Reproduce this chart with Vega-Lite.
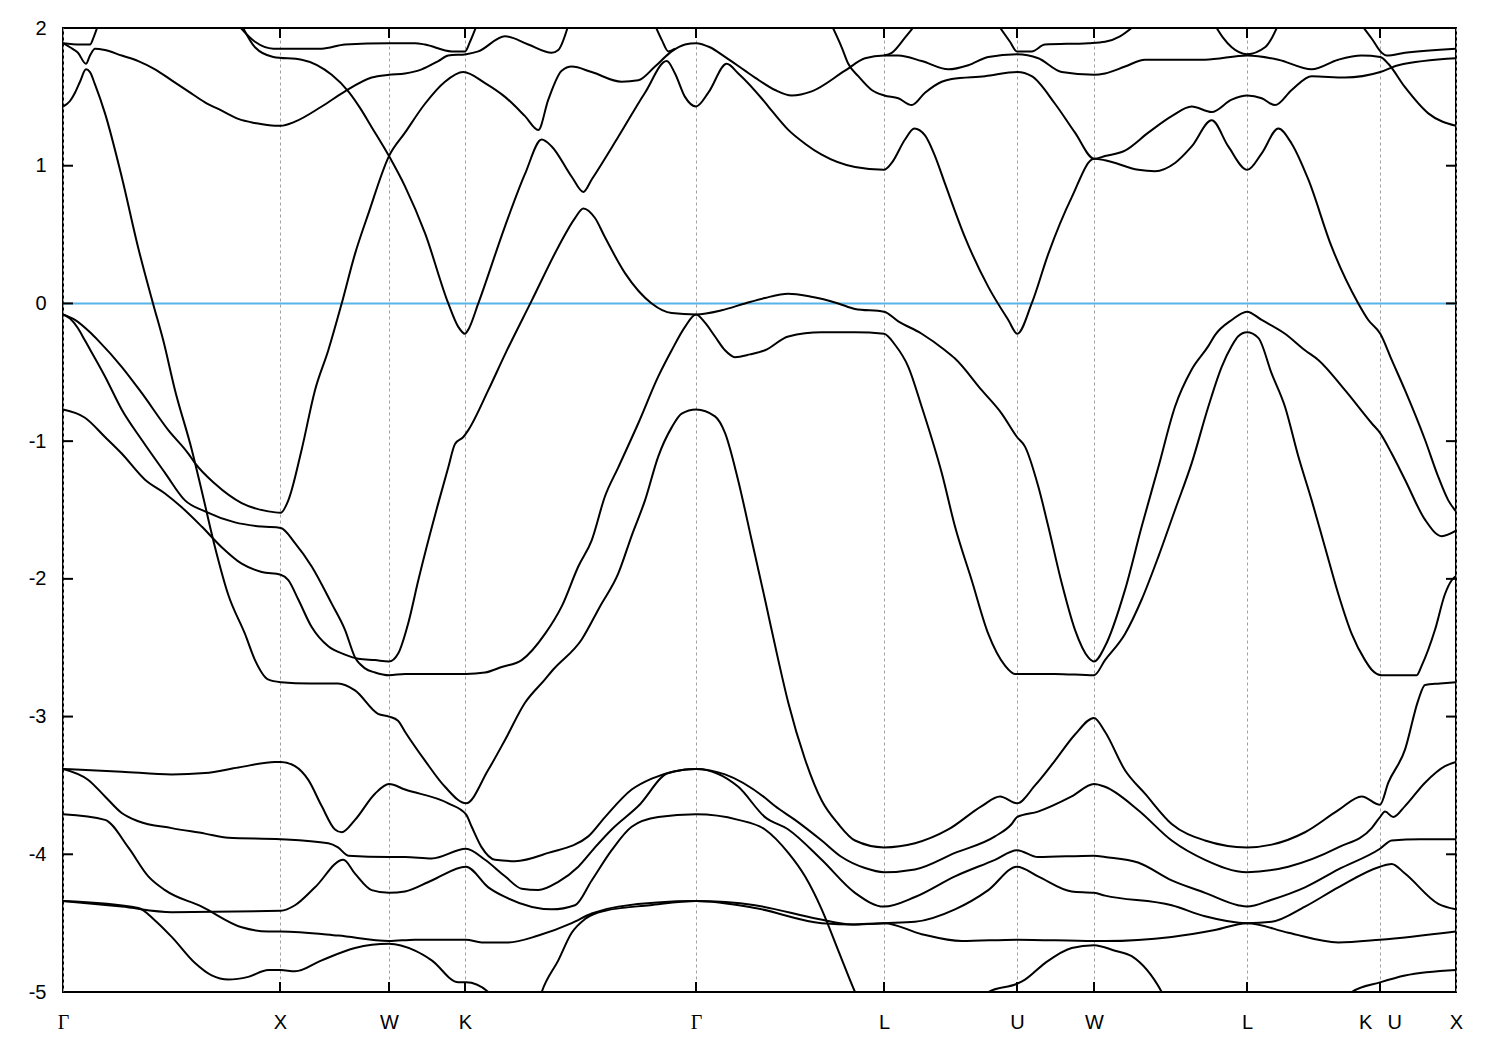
{
"$schema":"https://vega.github.io/schema/vega-lite/v6.json",
"width":1393,"height":964,
"autosize":{"type":"none"},
"padding":{"left":63,"top":28,"right":44,"bottom":58},
"background":"white",
"config":{"view":{"stroke":"#000000","strokeWidth":2},
"axis":{"labelFont":"Liberation Sans","labelFontSize":20,"labelColor":"#000000","ticks":false,"domain":false,"labelFlush":false,"labelOverlap":false,"grid":false}},
"datasets":{"bands":[
{"b":"T1","k":0,"E":1.89},{"b":"T1","k":17,"E":1.88},{"b":"T1","k":27,"E":1.88},{"b":"T1","k":31,"E":1.94},{"b":"T1","k":35,"E":2.02},
{"b":"T2","k":0,"E":1.89},{"b":"T2","k":7,"E":1.86},{"b":"T2","k":15,"E":1.82},{"b":"T2","k":23,"E":1.74},{"b":"T2","k":27,"E":1.8},{"b":"T2","k":32,"E":1.85},{"b":"T2","k":42,"E":1.84},{"b":"T2","k":58.7,"E":1.8},{"b":"T2","k":75.3,"E":1.76},{"b":"T2","k":92,"E":1.7},{"b":"T2","k":108.7,"E":1.62},{"b":"T2","k":125.3,"E":1.54},{"b":"T2","k":142,"E":1.46},{"b":"T2","k":158.7,"E":1.4},{"b":"T2","k":175.3,"E":1.34},{"b":"T2","k":192,"E":1.31},{"b":"T2","k":212,"E":1.29},{"b":"T2","k":217.7,"E":1.29},{"b":"T2","k":232,"E":1.32},{"b":"T2","k":258.7,"E":1.43},{"b":"T2","k":282,"E":1.54},{"b":"T2","k":308.7,"E":1.64},{"b":"T2","k":326,"E":1.66},{"b":"T2","k":342,"E":1.67},{"b":"T2","k":358.7,"E":1.7},{"b":"T2","k":375.3,"E":1.76},{"b":"T2","k":385.3,"E":1.8},{"b":"T2","k":403.3,"E":1.81},{"b":"T2","k":415.3,"E":1.83},{"b":"T2","k":442,"E":1.94},{"b":"T2","k":465.3,"E":1.88},{"b":"T2","k":488.7,"E":1.82},{"b":"T2","k":495.3,"E":1.84},{"b":"T2","k":505.3,"E":2.02},
{"b":"C","k":175.3,"E":2.02},{"b":"C","k":192,"E":1.9},{"b":"C","k":210.3,"E":1.85},{"b":"C","k":258.7,"E":1.85},{"b":"C","k":282,"E":1.88},{"b":"C","k":326,"E":1.89},{"b":"C","k":352,"E":1.89},{"b":"C","k":362,"E":1.88},{"b":"C","k":388.7,"E":1.83},{"b":"C","k":402,"E":1.83},{"b":"C","k":407,"E":1.9},{"b":"C","k":413.7,"E":2.02},
{"b":"D","k":178.7,"E":2.02},{"b":"D","k":192,"E":1.86},{"b":"D","k":210.3,"E":1.79},{"b":"D","k":238.7,"E":1.77},{"b":"D","k":268.7,"E":1.66},{"b":"D","k":285.3,"E":1.54},{"b":"D","k":297,"E":1.42},{"b":"D","k":308.7,"E":1.28},{"b":"D","k":326,"E":1.07},{"b":"D","k":342,"E":0.85},{"b":"D","k":362,"E":0.51},{"b":"D","k":385.3,"E":0},{"b":"D","k":395.3,"E":-0.17},{"b":"D","k":402,"E":-0.22},{"b":"D","k":405.3,"E":-0.19},{"b":"D","k":415.3,"E":0},{"b":"D","k":442,"E":0.56},{"b":"D","k":462,"E":0.94},{"b":"D","k":478.7,"E":1.19},{"b":"D","k":488.7,"E":1.14},{"b":"D","k":508.7,"E":0.92},{"b":"D","k":520.3,"E":0.81},{"b":"D","k":528.7,"E":0.9},{"b":"D","k":555.3,"E":1.21},{"b":"D","k":582,"E":1.53},{"b":"D","k":603.7,"E":1.76},{"b":"D","k":612,"E":1.67},{"b":"D","k":622,"E":1.5},{"b":"D","k":633,"E":1.43},{"b":"D","k":645.3,"E":1.53},{"b":"D","k":663.7,"E":1.74},{"b":"D","k":675.3,"E":1.67},{"b":"D","k":702,"E":1.46},{"b":"D","k":708.7,"E":1.4},{"b":"D","k":725.3,"E":1.26},{"b":"D","k":742,"E":1.16},{"b":"D","k":758.7,"E":1.08},{"b":"D","k":792,"E":0.99},{"b":"D","k":821,"E":0.97},{"b":"D","k":828.7,"E":1.02},{"b":"D","k":842,"E":1.19},{"b":"D","k":851.3,"E":1.27},{"b":"D","k":862,"E":1.22},{"b":"D","k":872,"E":1.07},{"b":"D","k":882,"E":0.87},{"b":"D","k":902,"E":0.48},{"b":"D","k":925.3,"E":0.12},{"b":"D","k":945.3,"E":-0.12},{"b":"D","k":954.3,"E":-0.22},{"b":"D","k":968.7,"E":0},{"b":"D","k":985.3,"E":0.36},{"b":"D","k":1008.7,"E":0.77},{"b":"D","k":1031,"E":1.05},{"b":"D","k":1042,"E":1.04},{"b":"D","k":1075.3,"E":0.97},{"b":"D","k":1092,"E":0.96},{"b":"D","k":1112,"E":1.02},{"b":"D","k":1128.7,"E":1.14},{"b":"D","k":1148.7,"E":1.33},{"b":"D","k":1165.3,"E":1.14},{"b":"D","k":1184.3,"E":0.97},{"b":"D","k":1198.7,"E":1.09},{"b":"D","k":1215.3,"E":1.27},{"b":"D","k":1228.7,"E":1.16},{"b":"D","k":1245.3,"E":0.9},{"b":"D","k":1268.7,"E":0.41},{"b":"D","k":1295.3,"E":0},{"b":"D","k":1305.3,"E":-0.12},{"b":"D","k":1317.3,"E":-0.22},{"b":"D","k":1328.7,"E":-0.41},{"b":"D","k":1342,"E":-0.63},{"b":"D","k":1362,"E":-0.99},{"b":"D","k":1375.3,"E":-1.26},{"b":"D","k":1385.3,"E":-1.43},{"b":"D","k":1393,"E":-1.51},
{"b":"E","k":0,"E":-0.08},{"b":"E","k":12,"E":-0.12},{"b":"E","k":27,"E":-0.21},{"b":"E","k":35.3,"E":-0.27},{"b":"E","k":58.7,"E":-0.46},{"b":"E","k":78.7,"E":-0.65},{"b":"E","k":105.3,"E":-0.92},{"b":"E","k":125.3,"E":-1.09},{"b":"E","k":132,"E":-1.16},{"b":"E","k":152,"E":-1.31},{"b":"E","k":178.7,"E":-1.45},{"b":"E","k":205.3,"E":-1.51},{"b":"E","k":217.7,"E":-1.52},{"b":"E","k":225.3,"E":-1.43},{"b":"E","k":238.7,"E":-1.06},{"b":"E","k":252,"E":-0.63},{"b":"E","k":265.3,"E":-0.34},{"b":"E","k":278.7,"E":0},{"b":"E","k":292,"E":0.36},{"b":"E","k":305.3,"E":0.65},{"b":"E","k":326,"E":1.07},{"b":"E","k":342,"E":1.24},{"b":"E","k":362,"E":1.45},{"b":"E","k":382,"E":1.61},{"b":"E","k":400.3,"E":1.68},{"b":"E","k":422,"E":1.6},{"b":"E","k":442,"E":1.5},{"b":"E","k":462,"E":1.36},{"b":"E","k":475.3,"E":1.26},{"b":"E","k":485.3,"E":1.48},{"b":"E","k":498.7,"E":1.69},{"b":"E","k":508.7,"E":1.72},{"b":"E","k":528.7,"E":1.68},{"b":"E","k":558.7,"E":1.61},{"b":"E","k":575.3,"E":1.62},{"b":"E","k":592,"E":1.72},{"b":"E","k":608.7,"E":1.83},{"b":"E","k":622,"E":1.88},{"b":"E","k":633,"E":1.89},{"b":"E","k":647,"E":1.86},{"b":"E","k":662,"E":1.79},{"b":"E","k":682,"E":1.69},{"b":"E","k":692,"E":1.64},{"b":"E","k":712,"E":1.55},{"b":"E","k":728.7,"E":1.51},{"b":"E","k":748.7,"E":1.54},{"b":"E","k":782,"E":1.69},{"b":"E","k":802,"E":1.78},{"b":"E","k":821,"E":1.8},{"b":"E","k":835.3,"E":1.8},{"b":"E","k":858.7,"E":1.76},{"b":"E","k":885.3,"E":1.7},{"b":"E","k":905.3,"E":1.73},{"b":"E","k":925.3,"E":1.79},{"b":"E","k":954,"E":1.81},{"b":"E","k":975.3,"E":1.78},{"b":"E","k":998.7,"E":1.68},{"b":"E","k":1031.3,"E":1.66},{"b":"E","k":1042,"E":1.67},{"b":"E","k":1062,"E":1.72},{"b":"E","k":1082,"E":1.77},{"b":"E","k":1108.7,"E":1.77},{"b":"E","k":1142,"E":1.77},{"b":"E","k":1184.3,"E":1.8},{"b":"E","k":1215.3,"E":1.77},{"b":"E","k":1248.7,"E":1.7},{"b":"E","k":1275.3,"E":1.77},{"b":"E","k":1298.7,"E":1.8},{"b":"E","k":1317.3,"E":1.79},{"b":"E","k":1325.3,"E":1.74},{"b":"E","k":1342,"E":1.57},{"b":"E","k":1365.3,"E":1.38},{"b":"E","k":1393,"E":1.29},
{"b":"F","k":768.7,"E":2.02},{"b":"F","k":778.7,"E":1.86},{"b":"F","k":785.3,"E":1.74},{"b":"F","k":795.3,"E":1.65},{"b":"F","k":808.7,"E":1.55},{"b":"F","k":821.3,"E":1.51},{"b":"F","k":835.3,"E":1.49},{"b":"F","k":848.7,"E":1.44},{"b":"F","k":862,"E":1.53},{"b":"F","k":878.7,"E":1.61},{"b":"F","k":888.7,"E":1.63},{"b":"F","k":922,"E":1.65},{"b":"F","k":954.3,"E":1.68},{"b":"F","k":968.7,"E":1.65},{"b":"F","k":992,"E":1.45},{"b":"F","k":1012,"E":1.24},{"b":"F","k":1031.3,"E":1.05},{"b":"F","k":1042,"E":1.07},{"b":"F","k":1062,"E":1.11},{"b":"F","k":1085.3,"E":1.24},{"b":"F","k":1108.7,"E":1.36},{"b":"F","k":1128.7,"E":1.43},{"b":"F","k":1148.7,"E":1.39},{"b":"F","k":1168.7,"E":1.48},{"b":"F","k":1184.3,"E":1.51},{"b":"F","k":1198.7,"E":1.49},{"b":"F","k":1212,"E":1.44},{"b":"F","k":1228.7,"E":1.55},{"b":"F","k":1248.7,"E":1.65},{"b":"F","k":1282,"E":1.64},{"b":"F","k":1317.3,"E":1.68},{"b":"F","k":1335.3,"E":1.73},{"b":"F","k":1393,"E":1.78},
{"b":"L1c","k":821,"E":1.8},{"b":"L1c","k":828.7,"E":1.82},{"b":"L1c","k":842,"E":1.93},{"b":"L1c","k":852,"E":2.02},
{"b":"G13","k":592,"E":2.02},{"b":"G13","k":599,"E":1.91},{"b":"G13","k":605.3,"E":1.83},{"b":"G13","k":612,"E":1.85},
{"b":"Ut","k":935.3,"E":2.02},{"b":"Ut","k":947,"E":1.9},{"b":"Ut","k":954,"E":1.83},{"b":"Ut","k":968.7,"E":1.83},{"b":"Ut","k":982,"E":1.88},{"b":"Ut","k":1025.3,"E":1.89},{"b":"Ut","k":1042,"E":1.9},{"b":"Ut","k":1057,"E":1.94},{"b":"Ut","k":1072,"E":2.02},
{"b":"L2c","k":1152,"E":2.02},{"b":"L2c","k":1160,"E":1.93},{"b":"L2c","k":1168.7,"E":1.86},{"b":"L2c","k":1184,"E":1.81},{"b":"L2c","k":1202,"E":1.86},{"b":"L2c","k":1209,"E":1.93},{"b":"L2c","k":1215,"E":2.02},
{"b":"Kt","k":1298.7,"E":2.02},{"b":"Kt","k":1309,"E":1.92},{"b":"Kt","k":1318.7,"E":1.82},{"b":"Kt","k":1323.7,"E":1.8},{"b":"Kt","k":1342,"E":1.82},{"b":"Kt","k":1393,"E":1.85},
{"b":"S","k":0,"E":1.43},{"b":"S","k":7,"E":1.47},{"b":"S","k":12,"E":1.53},{"b":"S","k":17,"E":1.61},{"b":"S","k":23,"E":1.7},{"b":"S","k":27,"E":1.68},{"b":"S","k":32,"E":1.59},{"b":"S","k":42,"E":1.38},{"b":"S","k":58.7,"E":0.92},{"b":"S","k":75,"E":0.41},{"b":"S","k":90,"E":0},{"b":"S","k":100.3,"E":-0.27},{"b":"S","k":112,"E":-0.63},{"b":"S","k":128.7,"E":-1.06},{"b":"S","k":138.7,"E":-1.36},{"b":"S","k":152,"E":-1.77},{"b":"S","k":165,"E":-2.11},{"b":"S","k":182,"E":-2.4},{"b":"S","k":192,"E":-2.59},{"b":"S","k":205,"E":-2.73},{"b":"S","k":217.7,"E":-2.75},{"b":"S","k":247,"E":-2.76},{"b":"S","k":275,"E":-2.76},{"b":"S","k":292,"E":-2.81},{"b":"S","k":315,"E":-2.98},{"b":"S","k":326,"E":-3},{"b":"S","k":335,"E":-3.03},{"b":"S","k":342,"E":-3.11},{"b":"S","k":362,"E":-3.32},{"b":"S","k":382,"E":-3.51},{"b":"S","k":403,"E":-3.63},{"b":"S","k":425,"E":-3.39},{"b":"S","k":442,"E":-3.17},{"b":"S","k":462,"E":-2.9},{"b":"S","k":482,"E":-2.73},{"b":"S","k":490,"E":-2.66},{"b":"S","k":518.7,"E":-2.44},{"b":"S","k":537,"E":-2.2},{"b":"S","k":555.3,"E":-1.96},{"b":"S","k":569,"E":-1.68},{"b":"S","k":582,"E":-1.43},{"b":"S","k":595.3,"E":-1.11},{"b":"S","k":608.7,"E":-0.9},{"b":"S","k":618.7,"E":-0.8},{"b":"S","k":633,"E":-0.77},{"b":"S","k":652,"E":-0.82},{"b":"S","k":662,"E":-0.94},{"b":"S","k":675,"E":-1.28},{"b":"S","k":688.7,"E":-1.72},{"b":"S","k":702,"E":-2.15},{"b":"S","k":715.3,"E":-2.59},{"b":"S","k":725.3,"E":-2.9},{"b":"S","k":742,"E":-3.31},{"b":"S","k":758.7,"E":-3.61},{"b":"S","k":775.3,"E":-3.78},{"b":"S","k":792,"E":-3.9},{"b":"S","k":821,"E":-3.95},{"b":"S","k":852,"E":-3.92},{"b":"S","k":885.3,"E":-3.82},{"b":"S","k":918.7,"E":-3.65},{"b":"S","k":937,"E":-3.58},{"b":"S","k":954,"E":-3.63},{"b":"S","k":972,"E":-3.5},{"b":"S","k":992,"E":-3.32},{"b":"S","k":1012,"E":-3.13},{"b":"S","k":1031,"E":-3.01},{"b":"S","k":1042,"E":-3.11},{"b":"S","k":1062,"E":-3.39},{"b":"S","k":1082,"E":-3.56},{"b":"S","k":1108.7,"E":-3.78},{"b":"S","k":1142,"E":-3.9},{"b":"S","k":1184,"E":-3.95},{"b":"S","k":1208.7,"E":-3.93},{"b":"S","k":1242,"E":-3.84},{"b":"S","k":1275.3,"E":-3.68},{"b":"S","k":1298.7,"E":-3.58},{"b":"S","k":1317,"E":-3.64},{"b":"S","k":1325.3,"E":-3.48},{"b":"S","k":1342,"E":-3.24},{"b":"S","k":1355.3,"E":-2.88},{"b":"S","k":1362,"E":-2.77},{"b":"S","k":1377,"E":-2.76},{"b":"S","k":1393,"E":-2.75},
{"b":"P","k":0,"E":-0.08},{"b":"P","k":7,"E":-0.11},{"b":"P","k":15,"E":-0.18},{"b":"P","k":22,"E":-0.27},{"b":"P","k":42,"E":-0.53},{"b":"P","k":58.7,"E":-0.77},{"b":"P","k":78.7,"E":-0.99},{"b":"P","k":102,"E":-1.23},{"b":"P","k":122,"E":-1.43},{"b":"P","k":142,"E":-1.51},{"b":"P","k":172,"E":-1.59},{"b":"P","k":198.7,"E":-1.62},{"b":"P","k":217.7,"E":-1.63},{"b":"P","k":232,"E":-1.74},{"b":"P","k":248.7,"E":-1.91},{"b":"P","k":268.7,"E":-2.18},{"b":"P","k":282,"E":-2.37},{"b":"P","k":292,"E":-2.57},{"b":"P","k":302,"E":-2.65},{"b":"P","k":312,"E":-2.68},{"b":"P","k":326,"E":-2.7},{"b":"P","k":342,"E":-2.69},{"b":"P","k":367,"E":-2.69},{"b":"P","k":403,"E":-2.69},{"b":"P","k":422,"E":-2.68},{"b":"P","k":438.7,"E":-2.64},{"b":"P","k":458.7,"E":-2.59},{"b":"P","k":482,"E":-2.4},{"b":"P","k":498.7,"E":-2.2},{"b":"P","k":515.3,"E":-1.91},{"b":"P","k":528.7,"E":-1.72},{"b":"P","k":542,"E":-1.4},{"b":"P","k":555.3,"E":-1.19},{"b":"P","k":575.3,"E":-0.87},{"b":"P","k":595.3,"E":-0.53},{"b":"P","k":608.7,"E":-0.34},{"b":"P","k":622,"E":-0.17},{"b":"P","k":633,"E":-0.08},{"b":"P","k":642,"E":-0.14},{"b":"P","k":652,"E":-0.24},{"b":"P","k":662,"E":-0.34},{"b":"P","k":672,"E":-0.39},{"b":"P","k":687,"E":-0.37},{"b":"P","k":702,"E":-0.34},{"b":"P","k":725.3,"E":-0.24},{"b":"P","k":758.7,"E":-0.21},{"b":"P","k":792,"E":-0.21},{"b":"P","k":821,"E":-0.22},{"b":"P","k":832,"E":-0.3},{"b":"P","k":845.3,"E":-0.46},{"b":"P","k":858.7,"E":-0.75},{"b":"P","k":878.7,"E":-1.23},{"b":"P","k":892,"E":-1.62},{"b":"P","k":908.7,"E":-2.01},{"b":"P","k":925.3,"E":-2.4},{"b":"P","k":942,"E":-2.63},{"b":"P","k":952,"E":-2.69},{"b":"P","k":992,"E":-2.69},{"b":"P","k":1031,"E":-2.7},{"b":"P","k":1042,"E":-2.59},{"b":"P","k":1062,"E":-2.4},{"b":"P","k":1078.7,"E":-2.15},{"b":"P","k":1095.3,"E":-1.84},{"b":"P","k":1112,"E":-1.5},{"b":"P","k":1128.7,"E":-1.16},{"b":"P","k":1145.3,"E":-0.75},{"b":"P","k":1158.7,"E":-0.46},{"b":"P","k":1168.7,"E":-0.31},{"b":"P","k":1175,"E":-0.24},{"b":"P","k":1184,"E":-0.21},{"b":"P","k":1195.3,"E":-0.25},{"b":"P","k":1208.7,"E":-0.51},{"b":"P","k":1222,"E":-0.75},{"b":"P","k":1235.3,"E":-1.11},{"b":"P","k":1248.7,"E":-1.43},{"b":"P","k":1262,"E":-1.77},{"b":"P","k":1275.3,"E":-2.11},{"b":"P","k":1288.7,"E":-2.4},{"b":"P","k":1302,"E":-2.59},{"b":"P","k":1308.7,"E":-2.66},{"b":"P","k":1318.7,"E":-2.7},{"b":"P","k":1353.7,"E":-2.7},{"b":"P","k":1358.7,"E":-2.63},{"b":"P","k":1372,"E":-2.37},{"b":"P","k":1382,"E":-2.11},{"b":"P","k":1388.7,"E":-2.01},{"b":"P","k":1393,"E":-1.98},
{"b":"R","k":0,"E":-0.77},{"b":"R","k":22,"E":-0.83},{"b":"R","k":42,"E":-0.97},{"b":"R","k":58.7,"E":-1.09},{"b":"R","k":82,"E":-1.28},{"b":"R","k":102,"E":-1.38},{"b":"R","k":118.7,"E":-1.48},{"b":"R","k":138.7,"E":-1.62},{"b":"R","k":158.7,"E":-1.77},{"b":"R","k":178.7,"E":-1.89},{"b":"R","k":198.7,"E":-1.95},{"b":"R","k":217.7,"E":-1.97},{"b":"R","k":225.3,"E":-2.01},{"b":"R","k":235.3,"E":-2.15},{"b":"R","k":248.7,"E":-2.35},{"b":"R","k":265.3,"E":-2.49},{"b":"R","k":282,"E":-2.55},{"b":"R","k":295.3,"E":-2.58},{"b":"R","k":312,"E":-2.59},{"b":"R","k":326,"E":-2.6},{"b":"R","k":335.3,"E":-2.54},{"b":"R","k":345.3,"E":-2.32},{"b":"R","k":355.3,"E":-2.01},{"b":"R","k":375.3,"E":-1.45},{"b":"R","k":385.3,"E":-1.19},{"b":"R","k":392,"E":-1.02},{"b":"R","k":400.3,"E":-0.97},{"b":"R","k":405.3,"E":-0.92},{"b":"R","k":425.3,"E":-0.63},{"b":"R","k":442,"E":-0.37},{"b":"R","k":468.7,"E":0.02},{"b":"R","k":495.3,"E":0.41},{"b":"R","k":512,"E":0.62},{"b":"R","k":520.3,"E":0.69},{"b":"R","k":532,"E":0.62},{"b":"R","k":542,"E":0.48},{"b":"R","k":562,"E":0.22},{"b":"R","k":588.7,"E":0},{"b":"R","k":608.7,"E":-0.07},{"b":"R","k":633,"E":-0.08},{"b":"R","k":658.7,"E":-0.05},{"b":"R","k":682,"E":0},{"b":"R","k":702,"E":0.04},{"b":"R","k":725.3,"E":0.07},{"b":"R","k":747,"E":0.05},{"b":"R","k":775.3,"E":0},{"b":"R","k":792,"E":-0.04},{"b":"R","k":821,"E":-0.06},{"b":"R","k":835.3,"E":-0.13},{"b":"R","k":858.7,"E":-0.22},{"b":"R","k":882,"E":-0.34},{"b":"R","k":892,"E":-0.4},{"b":"R","k":918.7,"E":-0.63},{"b":"R","k":938.7,"E":-0.8},{"b":"R","k":954,"E":-0.97},{"b":"R","k":962,"E":-1.04},{"b":"R","k":975.3,"E":-1.33},{"b":"R","k":985.3,"E":-1.62},{"b":"R","k":998.7,"E":-2.03},{"b":"R","k":1012,"E":-2.37},{"b":"R","k":1025.3,"E":-2.57},{"b":"R","k":1031,"E":-2.6},{"b":"R","k":1042,"E":-2.49},{"b":"R","k":1062,"E":-2.08},{"b":"R","k":1078.7,"E":-1.62},{"b":"R","k":1095.3,"E":-1.19},{"b":"R","k":1112,"E":-0.75},{"b":"R","k":1128.7,"E":-0.48},{"b":"R","k":1145.3,"E":-0.31},{"b":"R","k":1152,"E":-0.23},{"b":"R","k":1168.7,"E":-0.12},{"b":"R","k":1184,"E":-0.06},{"b":"R","k":1198.7,"E":-0.12},{"b":"R","k":1222,"E":-0.22},{"b":"R","k":1242,"E":-0.34},{"b":"R","k":1255.3,"E":-0.41},{"b":"R","k":1282,"E":-0.63},{"b":"R","k":1308.7,"E":-0.87},{"b":"R","k":1317,"E":-0.94},{"b":"R","k":1328.7,"E":-1.09},{"b":"R","k":1342,"E":-1.28},{"b":"R","k":1362,"E":-1.57},{"b":"R","k":1378.7,"E":-1.69},{"b":"R","k":1393,"E":-1.65},
{"b":"G1","k":0,"E":-3.38},{"b":"G1","k":58.7,"E":-3.4},{"b":"G1","k":108.7,"E":-3.42},{"b":"G1","k":142,"E":-3.41},{"b":"G1","k":175.3,"E":-3.37},{"b":"G1","k":212,"E":-3.33},{"b":"G1","k":217.7,"E":-3.33},{"b":"G1","k":232,"E":-3.36},{"b":"G1","k":245.3,"E":-3.46},{"b":"G1","k":258.7,"E":-3.65},{"b":"G1","k":272,"E":-3.82},{"b":"G1","k":278.7,"E":-3.84},{"b":"G1","k":292,"E":-3.75},{"b":"G1","k":312,"E":-3.56},{"b":"G1","k":326,"E":-3.49},{"b":"G1","k":342,"E":-3.53},{"b":"G1","k":385.3,"E":-3.63},{"b":"G1","k":403,"E":-3.71},{"b":"G1","k":408.7,"E":-3.8},{"b":"G1","k":418.7,"E":-3.95},{"b":"G1","k":432,"E":-4.04},{"b":"G1","k":452,"E":-4.05},{"b":"G1","k":485.3,"E":-3.99},{"b":"G1","k":525.3,"E":-3.87},{"b":"G1","k":542,"E":-3.73},{"b":"G1","k":568.7,"E":-3.53},{"b":"G1","k":588.7,"E":-3.45},{"b":"G1","k":633,"E":-3.38},{"b":"G1","k":662,"E":-3.42},{"b":"G1","k":702,"E":-3.59},{"b":"G1","k":712,"E":-3.65},{"b":"G1","k":732,"E":-3.75},{"b":"G1","k":758.7,"E":-3.9},{"b":"G1","k":778.7,"E":-4.02},{"b":"G1","k":802,"E":-4.1},{"b":"G1","k":821,"E":-4.13},{"b":"G1","k":852,"E":-4.11},{"b":"G1","k":892,"E":-3.99},{"b":"G1","k":932,"E":-3.87},{"b":"G1","k":948.7,"E":-3.78},{"b":"G1","k":954,"E":-3.73},{"b":"G1","k":975,"E":-3.69},{"b":"G1","k":1008.7,"E":-3.58},{"b":"G1","k":1031,"E":-3.49},{"b":"G1","k":1042,"E":-3.51},{"b":"G1","k":1075.3,"E":-3.68},{"b":"G1","k":1108.7,"E":-3.9},{"b":"G1","k":1142,"E":-4.04},{"b":"G1","k":1184,"E":-4.13},{"b":"G1","k":1225.3,"E":-4.09},{"b":"G1","k":1275.3,"E":-3.95},{"b":"G1","k":1308.7,"E":-3.81},{"b":"G1","k":1317,"E":-3.73},{"b":"G1","k":1322,"E":-3.69},{"b":"G1","k":1330.3,"E":-3.73},{"b":"G1","k":1342,"E":-3.65},{"b":"G1","k":1362,"E":-3.48},{"b":"G1","k":1382,"E":-3.36},{"b":"G1","k":1393,"E":-3.33},
{"b":"G2","k":0,"E":-3.38},{"b":"G2","k":25.3,"E":-3.46},{"b":"G2","k":42,"E":-3.58},{"b":"G2","k":58.7,"E":-3.7},{"b":"G2","k":75.3,"E":-3.76},{"b":"G2","k":108.7,"E":-3.81},{"b":"G2","k":142,"E":-3.85},{"b":"G2","k":165.3,"E":-3.88},{"b":"G2","k":217.7,"E":-3.89},{"b":"G2","k":265.3,"E":-3.92},{"b":"G2","k":275,"E":-3.95},{"b":"G2","k":285.3,"E":-4.01},{"b":"G2","k":326,"E":-4.02},{"b":"G2","k":342,"E":-4.02},{"b":"G2","k":368.7,"E":-4.03},{"b":"G2","k":403,"E":-3.96},{"b":"G2","k":422,"E":-4.04},{"b":"G2","k":442,"E":-4.16},{"b":"G2","k":458.7,"E":-4.25},{"b":"G2","k":475.3,"E":-4.26},{"b":"G2","k":495.3,"E":-4.2},{"b":"G2","k":515.3,"E":-4.09},{"b":"G2","k":532,"E":-3.95},{"b":"G2","k":548.7,"E":-3.82},{"b":"G2","k":575.3,"E":-3.65},{"b":"G2","k":605.3,"E":-3.41},{"b":"G2","k":633,"E":-3.38},{"b":"G2","k":675.3,"E":-3.51},{"b":"G2","k":702,"E":-3.73},{"b":"G2","k":725.3,"E":-3.82},{"b":"G2","k":758.7,"E":-4.04},{"b":"G2","k":792,"E":-4.28},{"b":"G2","k":821,"E":-4.38},{"b":"G2","k":852,"E":-4.31},{"b":"G2","k":892,"E":-4.16},{"b":"G2","k":932,"E":-4.04},{"b":"G2","k":954,"E":-3.97},{"b":"G2","k":975,"E":-4.02},{"b":"G2","k":1031,"E":-4.01},{"b":"G2","k":1042,"E":-4.02},{"b":"G2","k":1075,"E":-4.06},{"b":"G2","k":1108.7,"E":-4.19},{"b":"G2","k":1142,"E":-4.28},{"b":"G2","k":1175,"E":-4.37},{"b":"G2","k":1184,"E":-4.38},{"b":"G2","k":1208.7,"E":-4.33},{"b":"G2","k":1242,"E":-4.24},{"b":"G2","k":1275.3,"E":-4.11},{"b":"G2","k":1317,"E":-3.96},{"b":"G2","k":1328.7,"E":-3.9},{"b":"G2","k":1357,"E":-3.89},{"b":"G2","k":1393,"E":-3.89},
{"b":"G3","k":0,"E":-3.71},{"b":"G3","k":42,"E":-3.75},{"b":"G3","k":65.3,"E":-3.95},{"b":"G3","k":85.3,"E":-4.16},{"b":"G3","k":102,"E":-4.26},{"b":"G3","k":138.7,"E":-4.38},{"b":"G3","k":178.7,"E":-4.53},{"b":"G3","k":205.3,"E":-4.56},{"b":"G3","k":217.7,"E":-4.56},{"b":"G3","k":275.3,"E":-4.59},{"b":"G3","k":326,"E":-4.63},{"b":"G3","k":352,"E":-4.62},{"b":"G3","k":403,"E":-4.62},{"b":"G3","k":418.7,"E":-4.64},{"b":"G3","k":445.3,"E":-4.64},{"b":"G3","k":475.3,"E":-4.59},{"b":"G3","k":508.7,"E":-4.5},{"b":"G3","k":528.7,"E":-4.43},{"b":"G3","k":555.3,"E":-4.38},{"b":"G3","k":633,"E":-4.34},{"b":"G3","k":692,"E":-4.37},{"b":"G3","k":755.3,"E":-4.47},{"b":"G3","k":788.7,"E":-4.51},{"b":"G3","k":821,"E":-4.5},{"b":"G3","k":858.7,"E":-4.58},{"b":"G3","k":898.7,"E":-4.63},{"b":"G3","k":954,"E":-4.62},{"b":"G3","k":1031,"E":-4.63},{"b":"G3","k":1042,"E":-4.63},{"b":"G3","k":1108.7,"E":-4.6},{"b":"G3","k":1152,"E":-4.55},{"b":"G3","k":1184,"E":-4.5},{"b":"G3","k":1225.3,"E":-4.57},{"b":"G3","k":1275.3,"E":-4.64},{"b":"G3","k":1317,"E":-4.62},{"b":"G3","k":1393,"E":-4.56},
{"b":"G4","k":0,"E":-4.34},{"b":"G4","k":58.7,"E":-4.38},{"b":"G4","k":108.7,"E":-4.42},{"b":"G4","k":217.7,"E":-4.41},{"b":"G4","k":232,"E":-4.37},{"b":"G4","k":252,"E":-4.24},{"b":"G4","k":280.3,"E":-4.04},{"b":"G4","k":292,"E":-4.14},{"b":"G4","k":308.7,"E":-4.26},{"b":"G4","k":326,"E":-4.28},{"b":"G4","k":342,"E":-4.27},{"b":"G4","k":368.7,"E":-4.19},{"b":"G4","k":403,"E":-4.09},{"b":"G4","k":425.3,"E":-4.24},{"b":"G4","k":442,"E":-4.31},{"b":"G4","k":488.7,"E":-4.4},{"b":"G4","k":512,"E":-4.37},{"b":"G4","k":528.7,"E":-4.19},{"b":"G4","k":548.7,"E":-3.97},{"b":"G4","k":568.7,"E":-3.8},{"b":"G4","k":595.3,"E":-3.73},{"b":"G4","k":633,"E":-3.71},{"b":"G4","k":675.3,"E":-3.75},{"b":"G4","k":702,"E":-3.82},{"b":"G4","k":725.3,"E":-3.99},{"b":"G4","k":742,"E":-4.16},{"b":"G4","k":758.7,"E":-4.4},{"b":"G4","k":775.3,"E":-4.7},{"b":"G4","k":792,"E":-5},{"b":"G4","k":797,"E":-5.08},
{"b":"G5","k":0,"E":-4.34},{"b":"G5","k":75.3,"E":-4.39},{"b":"G5","k":92,"E":-4.48},{"b":"G5","k":108.7,"E":-4.6},{"b":"G5","k":132,"E":-4.79},{"b":"G5","k":148.7,"E":-4.88},{"b":"G5","k":165.3,"E":-4.91},{"b":"G5","k":185.3,"E":-4.89},{"b":"G5","k":205.3,"E":-4.84},{"b":"G5","k":217.7,"E":-4.84},{"b":"G5","k":232,"E":-4.85},{"b":"G5","k":258.7,"E":-4.77},{"b":"G5","k":292,"E":-4.68},{"b":"G5","k":326,"E":-4.65},{"b":"G5","k":352,"E":-4.7},{"b":"G5","k":368.7,"E":-4.77},{"b":"G5","k":395.3,"E":-4.93},{"b":"G5","k":403,"E":-4.93},{"b":"G5","k":425.3,"E":-5},{"b":"G5","k":432,"E":-5.06},
{"b":"G6","k":476,"E":-5.06},{"b":"G6","k":478.7,"E":-5},{"b":"G6","k":495.3,"E":-4.77},{"b":"G6","k":508.7,"E":-4.57},{"b":"G6","k":522,"E":-4.47},{"b":"G6","k":542,"E":-4.41},{"b":"G6","k":587,"E":-4.37},{"b":"G6","k":633,"E":-4.34},{"b":"G6","k":692,"E":-4.39},{"b":"G6","k":758.7,"E":-4.5},{"b":"G6","k":792,"E":-4.51},{"b":"G6","k":821,"E":-4.5},{"b":"G6","k":852,"E":-4.49},{"b":"G6","k":892,"E":-4.4},{"b":"G6","k":925.3,"E":-4.26},{"b":"G6","k":954,"E":-4.09},{"b":"G6","k":975,"E":-4.16},{"b":"G6","k":1008.7,"E":-4.27},{"b":"G6","k":1031,"E":-4.28},{"b":"G6","k":1042,"E":-4.3},{"b":"G6","k":1108.7,"E":-4.37},{"b":"G6","k":1142,"E":-4.45},{"b":"G6","k":1184,"E":-4.5},{"b":"G6","k":1208.7,"E":-4.49},{"b":"G6","k":1242,"E":-4.38},{"b":"G6","k":1275.3,"E":-4.24},{"b":"G6","k":1317,"E":-4.09},{"b":"G6","k":1328.7,"E":-4.07},{"b":"G6","k":1342,"E":-4.14},{"b":"G6","k":1375.3,"E":-4.36},{"b":"G6","k":1393,"E":-4.4},
{"b":"G7","k":922,"E":-5.06},{"b":"G7","k":925.3,"E":-5},{"b":"G7","k":954,"E":-4.94},{"b":"G7","k":962,"E":-4.91},{"b":"G7","k":982,"E":-4.79},{"b":"G7","k":1008.7,"E":-4.68},{"b":"G7","k":1031,"E":-4.66},{"b":"G7","k":1052,"E":-4.7},{"b":"G7","k":1068.7,"E":-4.74},{"b":"G7","k":1098.7,"E":-5},{"b":"G7","k":1103,"E":-5.06},
{"b":"G8","k":1283,"E":-5.06},{"b":"G8","k":1288.7,"E":-5},{"b":"G8","k":1317,"E":-4.93},{"b":"G8","k":1342,"E":-4.88},{"b":"G8","k":1393,"E":-4.84}
],
"kt":[{"k":217},{"k":326},{"k":402},{"k":633},{"k":821},{"k":954},{"k":1031},{"k":1184},{"k":1317}],
"et":[{"E":-4},{"E":-3},{"E":-2},{"E":-1},{"E":0},{"E":1}]
},
"layer":[
{"data":{"values":[{}]},
 "mark":{"type":"rule","color":"#56b4e9","strokeWidth":2},
 "encoding":{"y":{"datum":0,"type":"quantitative","scale":{"domain":[-5,2],"nice":false,"zero":false},"axis":null}}},
{"data":{"name":"bands"},
 "mark":{"type":"line","color":"#000000","strokeWidth":2,"interpolate":"monotone","clip":true,"strokeJoin":"round"},
 "encoding":{
  "x":{"field":"k","type":"quantitative","scale":{"domain":[0,1393],"nice":false,"zero":false},
   "axis":{"orient":"bottom","title":null,"values":[0,217,326,402,633,821,954,1031,1184,1317,1393],
    "labelExpr":"['Γ','X','W','K','Γ','L','U','W','L','K\u00a0\u00a0\u2009U','X'][indexof([0,217,326,402,633,821,954,1031,1184,1317,1393], datum.value)]",
    "labelFont":{"condition":{"test":"datum.value == 0 || datum.value == 633","value":"Liberation Serif"},"value":"Liberation Sans"},
    "grid":true,"gridDash":[3,3],"gridColor":"#a0a0a0","gridWidth":1,"labelPadding":20}},
  "y":{"field":"E","type":"quantitative","scale":{"domain":[-5,2],"nice":false,"zero":false},
   "axis":{"orient":"left","title":null,"values":[-5,-4,-3,-2,-1,0,1,2],"labelExpr":"'' + datum.value","labelPadding":17}},
  "detail":{"field":"b","type":"nominal"}}},
{"data":{"name":"kt"},
 "mark":{"type":"rule","color":"#000000","strokeWidth":2},
 "encoding":{"x":{"field":"k","type":"quantitative","axis":null},"y":{"datum":-5,"type":"quantitative","axis":null},"y2":{"datum":-4.927}}},
{"data":{"name":"kt"},
 "mark":{"type":"rule","color":"#000000","strokeWidth":2},
 "encoding":{"x":{"field":"k","type":"quantitative","axis":null},"y":{"datum":2,"type":"quantitative","axis":null},"y2":{"datum":1.927}}},
{"data":{"name":"et"},
 "mark":{"type":"rule","color":"#000000","strokeWidth":2},
 "encoding":{"y":{"field":"E","type":"quantitative","axis":null},"x":{"datum":0,"type":"quantitative","axis":null},"x2":{"datum":10}}},
{"data":{"name":"et"},
 "mark":{"type":"rule","color":"#000000","strokeWidth":2},
 "encoding":{"y":{"field":"E","type":"quantitative","axis":null},"x":{"datum":1393,"type":"quantitative","axis":null},"x2":{"datum":1383}}}
],
"resolve":{"axis":{"x":"independent","y":"independent"}}
}
